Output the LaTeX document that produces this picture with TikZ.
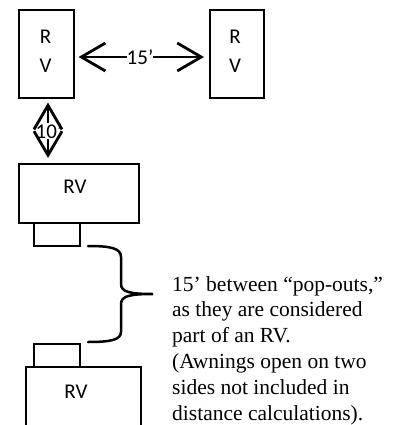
\documentclass[tikz,border=0pt]{standalone}
\usepackage{fontspec}
\setmainfont{Liberation Serif}
\newfontfamily\calibrifont{Carlito}
\usetikzlibrary{arrows.meta}
\begin{document}
\begin{tikzpicture}[x=1pt,y=-1pt,
  rvbox/.style={draw, line width=1.6pt, inner sep=0pt, anchor=north west},
  lbl/.style={font=\calibrifont\fontsize{21}{25}\selectfont, inner sep=0pt},
  twoarr/.style={line width=2pt, {Straight Barb[length=24pt,width=28pt,line width=2.8pt]}-},
  brace/.style={line width=2.5pt, line cap=round}
]
\fill[white] (0,0) rectangle (393,425);
\useasboundingbox (0,0) rectangle (393,425);
\clip (0,0) rectangle (393,425);
% boxes
\node[rvbox, minimum width=55pt, minimum height=88pt] (A) at (18,9) {};
\node[rvbox, minimum width=54pt, minimum height=88pt] (B) at (209,9) {};
\node[rvbox, minimum width=120pt, minimum height=59pt] (C) at (18,163) {};
\node[rvbox, minimum width=46pt, minimum height=23pt] (Cp) at (33,222) {};
\node[rvbox, minimum width=46pt, minimum height=23pt] (Dp) at (33,343) {};
\node[rvbox, minimum width=115pt, minimum height=80pt] (D) at (25,366) {};
% labels
\node[lbl] (Ar) at (45.5,37) {R};
\node[lbl] (Av) at (45.5,66) {V};
\node[lbl] (Br) at (235,37) {R};
\node[lbl] (Bv) at (235,66) {V};
\node[lbl] (Cl) at (75,187) {RV};
\node[lbl] (Dl) at (76,392) {RV};
% dimension arrows
\node[lbl] (h) at (140,57) {15’};
\draw[twoarr, shorten <=4pt] (A.east |- h) -- (h.west);
\draw[twoarr, shorten <=5pt] (B.west |- h) -- (h.east);
\node[lbl] (v) at (49,131) {10’};
\coordinate (vx) at (48,0);
\draw[twoarr, shorten <=4pt] (vx |- A.south) -- (vx |- v.north);
\draw[twoarr, shorten <=5pt] (vx |- C.north) -- (vx |- v.south);
% brace
\coordinate (bt) at (88,246);
\coordinate (bb) at (88,342);
\coordinate (tip) at (153,294);
\draw[brace] (bt) .. controls (110,246) and (121,248) .. (121,257) -- (121,284)
  .. controls (121,292) and (130,294) .. (tip)
  .. controls (130,294) and (121,296) .. (121,304) -- (121,332)
  .. controls (121,340) and (110,342) .. (bb);
% text
\node[anchor=base west, align=left, inner sep=0pt, font=\fontsize{21.5}{25.8}\selectfont] (txt) at (172,420)
{15’ between “pop-outs,”\\as they are considered\\part of an RV.\\(Awnings open on two\\sides not included in\\distance calculations).};
\end{tikzpicture}
\end{document}
